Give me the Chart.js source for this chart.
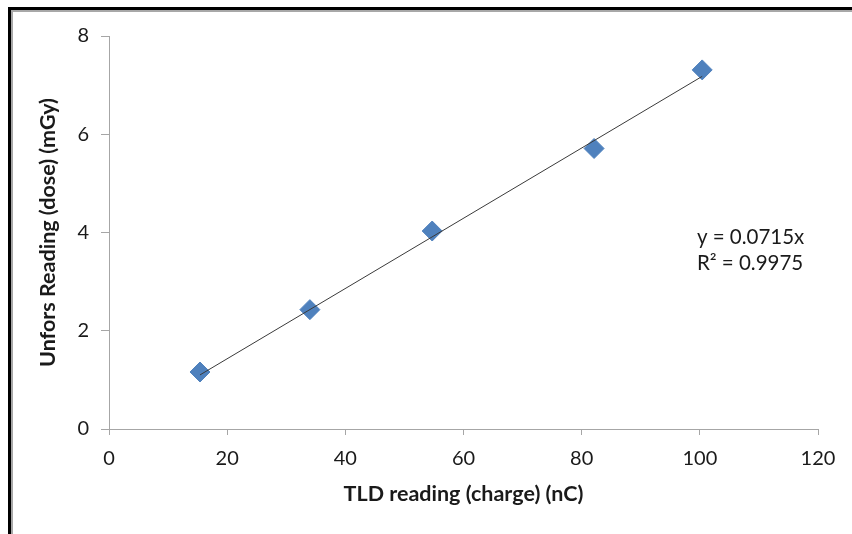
<!DOCTYPE html>
<html>
<head>
<meta charset="utf-8">
<script src="https://cdn.jsdelivr.net/npm/chart.js@4.4.1/dist/chart.umd.min.js"></script>
<style>
  html, body { margin: 0; padding: 0; background: #fff; }
  #wrap { position: relative; width: 852px; height: 534px; overflow: hidden; }
  #frame {
    position: absolute; left: 8px; top: 7px; width: 900px; height: 600px;
    border-left: 3px solid #000; border-top: 3px solid #000;
    box-shadow: inset 2px 2px 0 #a8a8a8;
    pointer-events: none;
  }
</style>
</head>
<body>
<div id="wrap">
  <canvas id="calib" width="852" height="534"></canvas>
  <div id="frame"></div>
</div>
<script>
// TLD charge vs Unfors dose readings
const tld_charge = [15.4, 34.0, 54.7, 82.1, 100.4]
const unfors_dose = [1.16, 2.43, 4.03, 5.71, 7.31]

// linear fit through origin (from the fitted equation)
const fit_slope = 0.0715
const fit_r2 = 0.9975

const x_ticks = [0, 20, 40, 60, 80, 100, 120]
const y_ticks = [0, 2, 4, 6, 8]

const axis_grey = '#a6a6a6'
const text_color = '#1a1a1a'
const font_name = 'Lato, Carlito, "Open Sans", sans-serif'

var points = tld_charge.map((x, i) => ({ x: x, y: unfors_dose[i] }))
var x_min = Math.min(...tld_charge)
var x_max = Math.max(...tld_charge)
var fit_line = [
    { x: x_min, y: fit_slope * x_min },
    { x: x_max, y: fit_slope * x_max }
]

// draws the trendline equation next to the line
const fitLabel = {
    id: 'fitLabel',
    afterDatasetsDraw(chart) {
        const ctx = chart.ctx
        const xs = chart.scales.x
        const ys = chart.scales.y
        const px = xs.getPixelForValue(99.5)
        const py = ys.getPixelForValue(3.9)
        ctx.save()
        ctx.fillStyle = text_color
        ctx.font = '20.5px ' + font_name
        ctx.textBaseline = 'middle'
        ctx.textAlign = 'left'
        ctx.fillText('y = ' + fit_slope + 'x', px, py)
        ctx.fillText('R\u00B2 = ' + fit_r2, px, py + 26)
        ctx.restore()
    }
}

var calib_chart = new Chart('calib', {
    type: 'scatter',
    data: {
        datasets: [{
            type: 'line',
            data: fit_line,
            borderColor: '#3a3a3a',
            borderWidth: 1,
            pointRadius: 0,
            fill: false
        }, {
            data: points,
            pointStyle: 'rectRot',
            pointRadius: 10,
            backgroundColor: '#4f81bd',
            borderColor: '#4f81bd',
            borderWidth: 1
        }]
    },
    options: {
        responsive: false,
        animation: false,
        layout: { padding: { left: 0, top: 36, right: 34, bottom: 0 } },
        plugins: {
            legend: { display: false },
            tooltip: { enabled: false }
        },
        scales: {
            x: {
                type: 'linear',
                min: 0,
                max: 120,
                afterBuildTicks: (scale) => { scale.ticks = x_ticks.map(v => ({ value: v })) },
                afterFit: (scale) => { scale.height = 105 },
                grid: { drawOnChartArea: false, drawTicks: true, tickLength: 6, color: axis_grey },
                border: { color: axis_grey, width: 1 },
                ticks: { color: text_color, font: { family: font_name, size: 20 }, padding: 12, maxRotation: 0 },
                title: {
                    display: true,
                    text: 'TLD reading (charge) (nC)',
                    color: text_color,
                    font: { family: font_name, size: 21.5, weight: 'bold' },
                    padding: { top: 0, bottom: 27 }
                }
            },
            y: {
                type: 'linear',
                min: 0,
                max: 8,
                afterBuildTicks: (scale) => { scale.ticks = y_ticks.map(v => ({ value: v })) },
                afterFit: (scale) => { scale.width = 109 },
                grid: { drawOnChartArea: false, drawTicks: true, tickLength: 8, color: axis_grey },
                border: { color: axis_grey, width: 1 },
                ticks: { color: text_color, font: { family: font_name, size: 20 }, padding: 12 },
                title: {
                    display: true,
                    text: 'Unfors Reading (dose) (mGy)',
                    color: text_color,
                    font: { family: font_name, size: 21.5, weight: 'bold' },
                    padding: { top: 35, bottom: 0 }
                }
            }
        }
    },
    plugins: [fitLabel]
});
</script>
</body>
</html>
